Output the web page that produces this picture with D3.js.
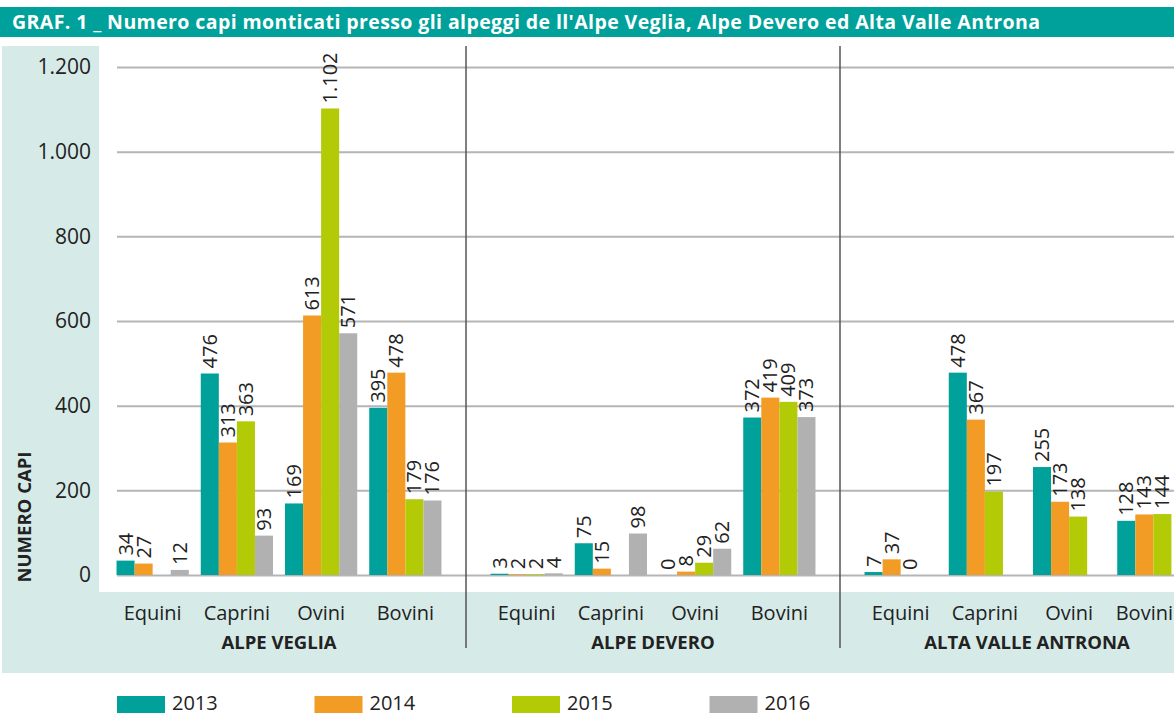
<!DOCTYPE html>
<html>
<head>
<meta charset="utf-8">
<script src="https://cdn.jsdelivr.net/npm/d3@7"></script>
<style>
  body { margin: 0; background: #fff; }
  svg { display: block; font-family: "Open Sans", sans-serif; }
</style>
</head>
<body>
<div class="graph"></div>
<script>
const title = "GRAF. 1 _ Numero capi monticati presso gli alpeggi de ll'Alpe Veglia, Alpe Devero ed Alta Valle Antrona";
const sections = ["ALPE VEGLIA", "ALPE DEVERO", "ALTA VALLE ANTRONA"];
const categories = ["Equini", "Caprini", "Ovini", "Bovini"];
const years = ["2013", "2014", "2015", "2016"];
const colors = ["#00a19a", "#f39c25", "#b3cb07", "#b1b1b1"];
const yTicks = [0, 200, 400, 600, 800, 1000, 1200];

// values per year, order: section x category (null = no data)
const values2013 = [34, 476, 169, 395,   3, 75, 0, 372,    7, 478, 255, 128];
const values2014 = [27, 313, 613, 478,   2, 15, 8, 419,    37, 367, 173, 143];
const values2015 = [null, 363, 1102, 179, 2, null, 29, 409, 0, 197, 138, 144];
const values2016 = [12, 93, 571, 176,    4, 98, 62, 373,   null, null, null, null];
const series = [values2013, values2014, values2015, values2016];

const W = 1174, H = 716;

const svg = d3.select(".graph").append("svg")
  .attr("width", W)
  .attr("height", H);

// title bar
svg.append("rect").attr("x", 0).attr("y", 7).attr("width", W).attr("height", 30).attr("fill", "#00a19a");
svg.append("text")
  .attr("x", 12).attr("y", 29)
  .attr("fill", "#fff")
  .attr("font-size", 19.5)
  .attr("font-weight", 700)
  .attr("textLength", 1028)
  .text(title);

// backgrounds
svg.append("rect").attr("x", 2).attr("y", 46).attr("width", W - 2).attr("height", 627).attr("fill", "#d6ebe8");
svg.append("rect").attr("x", 99).attr("y", 46).attr("width", W - 99).attr("height", 546).attr("fill", "#fff");

const y = d3.scaleLinear().domain([0, 1200]).range([575, 67]);

const x0 = d3.scaleBand().domain(sections).range([92, 92 + 374 * 3]).padding(0);
const x1 = d3.scaleBand().domain(categories).range([0, 374]).paddingInner(0).paddingOuter(0.22);
const x2 = d3.scaleBand().domain(years).range([6, x1.bandwidth() - 6]).padding(0);

// gridlines
svg.append("g")
  .attr("transform", "translate(117,0)")
  .call(d3.axisLeft(y).tickValues(yTicks).tickSize(-(W - 117)).tickFormat(""))
  .call(g => g.select(".domain").remove())
  .call(g => g.selectAll("line").attr("stroke", "#b5b5b5").attr("stroke-width", 2));

// y tick labels
svg.append("g")
  .attr("transform", "translate(91,0)")
  .call(d3.axisLeft(y).tickValues(yTicks).tickSize(0).tickPadding(0)
    .tickFormat(d => d3.format(",")(d).replace(/,/g, ".")))
  .call(g => g.select(".domain").remove())
  .call(g => g.selectAll("text")
    .attr("font-size", 21)
    .attr("fill", "#222")
    .attr("font-family", "Open Sans, sans-serif"));

// y axis title
svg.append("text")
  .attr("transform", "translate(31,517) rotate(-90)")
  .attr("text-anchor", "middle")
  .attr("font-size", 18.5)
  .attr("font-weight", 700)
  .attr("fill", "#222")
  .text("NUMERO CAPI");

// separators
[1, 2].forEach(i => {
  svg.append("line")
    .attr("x1", x0(sections[i])).attr("x2", x0(sections[i]))
    .attr("y1", 46).attr("y2", 648)
    .attr("stroke", "#555").attr("stroke-width", 1.5);
});

// flat records
const bars = [];
sections.forEach((s, si) => {
  categories.forEach((c, ci) => {
    years.forEach((yr, yi) => {
      bars.push({ section: s, cat: c, year: yr, yi: yi, value: series[yi][si * 4 + ci] });
    });
  });
});

const bx = d => x0(d.section) + x1(d.cat) + x2(d.year);

svg.append("g").selectAll("rect")
  .data(bars.filter(d => d.value !== null))
  .enter().append("rect")
  .attr("x", bx)
  .attr("width", x2.bandwidth())
  .attr("y", d => y(d.value))
  .attr("height", d => y(0) - y(d.value))
  .attr("fill", d => colors[d.yi]);

svg.append("g").selectAll("text")
  .data(bars.filter(d => d.value !== null))
  .enter().append("text")
  .attr("transform", d => "translate(" + (bx(d) + x2.bandwidth() / 2) + "," + (y(d.value) - 5) + ") rotate(-90)")
  .attr("dy", "0.35em")
  .attr("font-size", 20)
  .attr("fill", "#222")
  .text(d => d3.format(",")(d.value).replace(/,/g, "."));

// category labels
sections.forEach(s => {
  categories.forEach(c => {
    const t = svg.append("text")
      .attr("x", x0(s) + x1(c) + x1.bandwidth() / 2)
      .attr("y", 620)
      .attr("text-anchor", "middle")
      .attr("font-size", 20)
      .attr("fill", "#222")
      .text(c);
    // keep the last label inside the page
    const bb = t.node().getBBox();
    if (bb.x + bb.width > W - 1) t.attr("x", W - 1 - bb.width / 2);
  });
  svg.append("text")
    .attr("x", x0(s) + x0.bandwidth() / 2)
    .attr("y", 649)
    .attr("text-anchor", "middle")
    .attr("font-size", 18.5)
    .attr("font-weight", 700)
    .attr("fill", "#222")
    .text(s);
});

// legend
const legend = svg.append("g").selectAll("g")
  .data(years)
  .enter().append("g")
  .attr("transform", (d, i) => "translate(" + (117 + i * 197.5) + ",696)");
legend.append("rect").attr("width", 48).attr("height", 17).attr("fill", (d, i) => colors[i]);
legend.append("text")
  .attr("x", 55).attr("y", 14)
  .attr("font-size", 20)
  .attr("fill", "#222")
  .text(d => d);
</script>
</body>
</html>
